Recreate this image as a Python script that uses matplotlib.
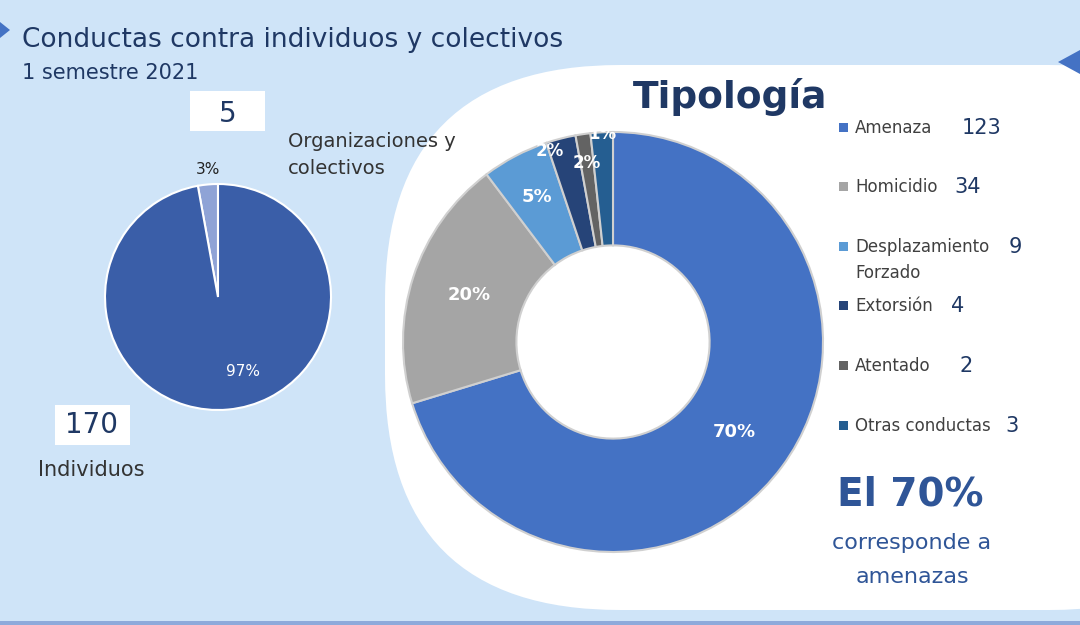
import numpy as np
import matplotlib.pyplot as plt
from matplotlib.patches import FancyBboxPatch, Rectangle, Polygon

# data
tipos = ["Amenaza", "Homicidio", "Desplazamiento\nForzado", "Extorsión", "Atentado", "Otras conductas"]
tipo_vals = [123, 34, 9, 4, 2, 3]
tipo_pct = ["70%", "20%", "5%", "2%", "2%", "1%"]
tipo_colors = ["#4472c4", "#a5a5a5", "#5b9bd5", "#264478", "#636363", "#255e91"]

grupos = ["Organizaciones y\ncolectivos", "Individuos"]
grupo_vals = [5, 170]
grupo_pct = ["3%", "97%"]
grupo_colors = ["#8fa3d6", "#3a5ea8"]

H = 625
fig = plt.figure(figsize=(10.8, 6.25), dpi=100)
fig.patch.set_facecolor("#cfe4f8")
ax = fig.add_axes([0, 0, 1, 1])
ax.set_facecolor("#cfe4f8")

def Y(y):
    return H - y

# white panel
ax.add_patch(FancyBboxPatch((385, Y(610)), 900, 545, boxstyle="round,pad=0,rounding_size=235",
                            fc="white", ec="none", zorder=1))
ax.add_patch(Rectangle((0, 0), 1080, 4, fc="#8eaadb", ec="none", zorder=2))
ax.add_patch(Polygon([[0, Y(22)], [10, Y(30)], [0, Y(38)]], fc="#4472c4", ec="none"))
ax.add_patch(Polygon([[1080, Y(50)], [1058, Y(62)], [1080, Y(74)]], fc="#4472c4", ec="none"))

# donut
cx, cy, R = 613, Y(342), 210
ax.pie(tipo_vals, colors=tipo_colors, startangle=90, counterclock=False, radius=R,
       center=(cx, cy), frame=True,
       wedgeprops=dict(width=R * 0.54, edgecolor="#d0d0d0", linewidth=1.5))
label_r = [0.72, 0.72, 0.78, 0.96, 0.86, 0.99]
label_nudge = [0, 0, 0, 4, 0, 0]
ang = 90.0
tot = sum(tipo_vals)
for v, p, r, dn in zip(tipo_vals, tipo_pct, label_r, label_nudge):
    span = 360.0 * v / tot
    mid = np.deg2rad(ang - span / 2 + dn)
    ang -= span
    ax.text(cx + r * R * np.cos(mid), cy + r * R * np.sin(mid), p, ha="center", va="center",
            color="white", fontsize=13 if v > 5 else 12, fontweight="bold", zorder=5)

# small pie
px, py, pr = 218, Y(297), 113
ax.pie(grupo_vals, colors=grupo_colors, startangle=90, radius=pr, center=(px, py), frame=True,
       wedgeprops=dict(edgecolor="white", linewidth=1.5))
ax.text(208, Y(170), grupo_pct[0], ha="center", va="center", fontsize=11, color="#222222")
ax.text(243, Y(372), grupo_pct[1], ha="center", va="center", fontsize=11, color="white")

# boxes with counts
ax.add_patch(Rectangle((190, Y(131)), 75, 40, fc="white", ec="none"))
ax.text(228, Y(114), str(grupo_vals[0]), ha="center", va="center", fontsize=20, color="#1f3864")
ax.add_patch(Rectangle((55, Y(445)), 75, 40, fc="white", ec="none"))
ax.text(92, Y(425), str(grupo_vals[1]), ha="center", va="center", fontsize=20, color="#1f3864")
ax.text(38, Y(470), grupos[1], ha="left", va="center", fontsize=15, color="#333333")
ax.text(288, Y(155), grupos[0], ha="left", va="center", fontsize=14, color="#333333", linespacing=1.5)

# titles
ax.text(22, Y(40), "Conductas contra individuos y colectivos", fontsize=19, color="#1f3864", va="center")
ax.text(22, Y(73), "1 semestre 2021", fontsize=15, color="#1f3864", va="center")
ax.text(730, Y(97), "Tipología", fontsize=27, fontweight="bold", color="#1f3864", ha="center", va="center")

# legend
rows = [128, 187, 247, 306, 366, 426]
val_x = [982, 968, 1015, 958, 966, 1012]
for y, name, v, c, vx in zip(rows, tipos, tipo_vals, tipo_colors, val_x):
    ax.add_patch(Rectangle((839, Y(y) - 4), 9, 9, fc=c, ec="none"))
    ax.text(855, Y(y) + 9, name, fontsize=12, color="#404040", va="top", linespacing=1.6)
    ax.text(vx, Y(y), str(v), fontsize=15, color="#1f3864", ha="center", va="center")

ax.text(910, Y(495), "El 70%", fontsize=28, fontweight="bold", color="#2f5597", ha="center", va="center")
ax.text(912, Y(543), "corresponde a", fontsize=16, color="#2f5597", ha="center", va="center")
ax.text(912, Y(577), "amenazas", fontsize=16, color="#2f5597", ha="center", va="center")

ax.set_xlim(0, 1080)
ax.set_ylim(0, H)
ax.set_aspect("auto")
ax.axis("off")
fig.savefig("out.png", dpi=100, facecolor=fig.get_facecolor())
